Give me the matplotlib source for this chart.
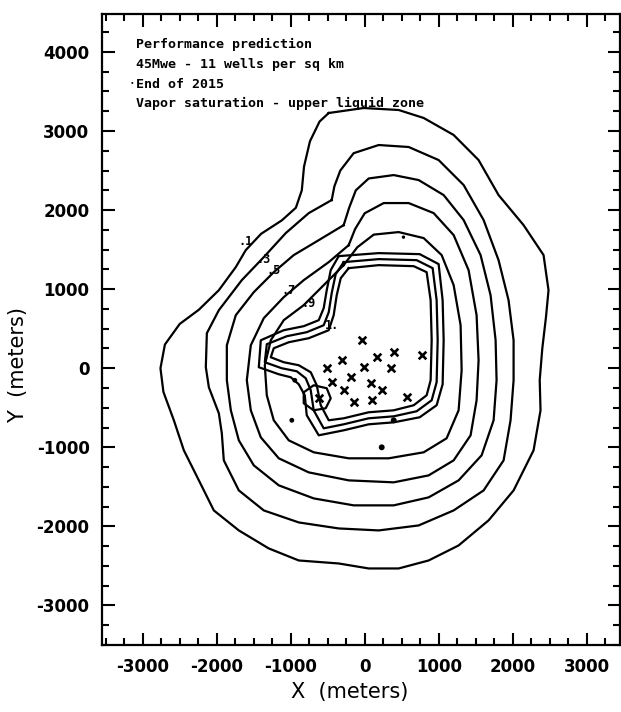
#!/usr/bin/env python3

import matplotlib
matplotlib.use('Agg')
import matplotlib.pyplot as plt
from matplotlib.ticker import MultipleLocator

# contour lines, (x, y) in meters
contour_01 = [(-486, 3228), (-14, 3291), (459, 3266), (797, 3165), (1202, 2950),
              (1539, 2633), (1809, 2190), (2147, 1810), (2417, 1431), (2484, 987),
              (2450, 650), (2400, 250), (2365, -150), (2376, -532), (2282, -1038),
              (2012, -1545), (1674, -1924), (1269, -2241), (864, -2431), (459, -2532),
              (54, -2532), (-351, -2469), (-891, -2431), (-1296, -2279), (-1701, -2051),
              (-2039, -1798), (-2241, -1418), (-2444, -1038), (-2579, -658),
              (-2720, -300), (-2760, 0), (-2700, 300), (-2500, 560), (-2241, 740),
              (-1971, 987), (-1742, 1279), (-1607, 1494), (-1400, 1700),
              (-1120, 1870), (-930, 2030), (-850, 2250), (-820, 2550),
              (-740, 2870), (-610, 3120)]

contour_03 = [(-446, 2127), (-756, 1962), (-1067, 1709), (-1364, 1405), (-1661, 1114),
              (-1971, 734), (-2133, 443), (-2147, 13), (-2106, -241), (-1971, -570),
              (-1931, -823), (-1904, -1165), (-1701, -1545), (-1364, -1798),
              (-891, -1950), (-351, -2026), (189, -2051), (729, -1988), (1202, -1798),
              (1607, -1545), (1877, -1165), (1971, -658), (2012, -152), (2012, 354),
              (1944, 861), (1809, 1367), (1607, 1874), (1337, 2317), (999, 2633),
              (594, 2798), (189, 2823), (-149, 2720), (-330, 2500), (-410, 2300)]

contour_05 = [(-284, 1810), (-621, 1620), (-959, 1431), (-1229, 1215), (-1499, 962),
              (-1742, 671), (-1863, 291), (-1863, -152), (-1809, -532), (-1701, -912),
              (-1499, -1228), (-1161, -1481), (-689, -1646), (-149, -1734),
              (392, -1734), (864, -1633), (1269, -1418), (1580, -1101), (1742, -658),
              (1782, -152), (1769, 354), (1701, 924), (1566, 1431), (1337, 1874),
              (1067, 2190), (729, 2380), (392, 2443), (54, 2400), (-120, 2250),
              (-210, 2030)]

contour_07 = [(-216, 1557), (-486, 1342), (-824, 1114), (-1094, 899), (-1364, 633),
              (-1539, 291), (-1593, -152), (-1539, -532), (-1404, -874), (-1161, -1139),
              (-756, -1317), (-216, -1418), (392, -1443), (864, -1355), (1202, -1165),
              (1431, -848), (1512, -405), (1539, 101), (1512, 671), (1404, 1241),
              (1202, 1684), (932, 1962), (594, 2089), (257, 2089), (0, 1960),
              (-130, 1760)]

contour_09 = [(-284, 1304), (-554, 1051), (-824, 798), (-1094, 608), (-1269, 354),
              (-1350, 38), (-1323, -342), (-1229, -658), (-1026, -912), (-689, -1063),
              (-216, -1139), (324, -1139), (797, -1063), (1107, -886), (1269, -532),
              (1310, -25), (1296, 544), (1202, 1051), (1040, 1431), (797, 1646),
              (459, 1722), (122, 1690), (-100, 1530)]

band_outer = [(-351, 1418), (189, 1456), (743, 1443), (999, 1317), (1053, 861),
              (1067, 354), (1053, -203), (972, -468), (743, -620), (392, -684),
              (54, -709), (-284, -785), (-621, -848), (-783, -595), (-810, -342),
              (-891, -203), (-999, -114), (-1161, -76), (-1431, 13), (-1404, 354),
              (-1094, 481), (-824, 532), (-621, 608), (-554, 760), (-513, 987),
              (-459, 1241)]

band_middle = [(-284, 1342), (189, 1380), (702, 1367), (918, 1266), (972, 861),
               (986, 354), (972, -177), (905, -405), (702, -544), (392, -608),
               (54, -633), (-284, -709), (-554, -760), (-689, -532), (-729, -279),
               (-797, -127), (-918, -38), (-1121, 0), (-1350, 76), (-1323, 304),
               (-1053, 405), (-783, 456), (-554, 544), (-486, 709), (-446, 950),
               (-392, 1190)]

band_inner = [(-216, 1266), (189, 1304), (662, 1291), (837, 1215), (891, 861),
              (905, 354), (891, -152), (837, -342), (662, -468), (392, -532),
              (54, -557), (-284, -633), (-486, -658), (-594, -468), (-648, -215),
              (-729, -51), (-891, 38), (-1094, 76), (-1269, 139), (-1229, 253),
              (-1026, 329), (-756, 380), (-486, 481), (-419, 671), (-378, 924),
              (-324, 1139)]

small_loop = [(-824, -304), (-689, -215), (-513, -253), (-459, -380), (-527, -506),
              (-689, -532), (-824, -443)]

contours = [contour_01, contour_03, contour_05, contour_07, contour_09,
            band_outer, band_middle, band_inner, small_loop]

# well locations
wells_x = [-40, -310, 160, 390, 770, -515, -15, 350, -190, -445, 80, -285, 230,
           -150, 95, 565, -620]
wells_y = [355, 100, 140, 200, 165, 0, 15, 0, -115, -175, -190, -280, -280,
           -430, -405, -365, -380]

# contour labels
label_text = ['.1', '.3', '.5', '.7', '.9', '1.']
label_x = [-1607, -1364, -1229, -1026, -756, -446]
label_y = [1608, 1380, 1240, 988, 824, 545]

# isolated dots
dots_x = [-945, -985, 230, 392, 524, -3140]
dots_y = [-152, -658, -1000, -658, 1658, 3608]
dots_s = [12, 12, 18, 18, 6, 2]

title_lines = ['Performance prediction', '45Mwe - 11 wells per sq km',
               'End of 2015', 'Vapor saturation - upper liquid zone']


def main():
    plt.rcParams['axes.unicode_minus'] = False
    fig = plt.figure(figsize=(6.21, 7.12), dpi=100)
    ax = fig.add_axes([102 / 621, 1 - 645 / 712, 518 / 621, 631 / 712])

    for c in contours:
        xs = [p[0] for p in c] + [c[0][0]]
        ys = [p[1] for p in c] + [c[0][1]]
        ax.plot(xs, ys, color='black', lw=1.6, solid_joinstyle='round')

    ax.scatter(wells_x, wells_y, marker='x', s=30, color='black', linewidths=1.9)
    ax.scatter(dots_x, dots_y, s=dots_s, color='black', linewidths=0)

    for t, x, y in zip(label_text, label_x, label_y):
        ax.text(x, y, t, fontsize=8.5, fontweight='bold', family='DejaVu Sans Mono',
                ha='center', va='center')

    for i, line in enumerate(title_lines):
        ax.text(0.065, 0.952 - i * 0.0315, line, transform=ax.transAxes,
                family='DejaVu Sans Mono', fontweight='bold', fontsize=9.5,
                ha='left', va='center')

    ax.set_xlim(-3550, 3450)
    ax.set_ylim(-3500, 4480)

    ax.xaxis.set_major_locator(MultipleLocator(1000))
    ax.xaxis.set_minor_locator(MultipleLocator(250))
    ax.yaxis.set_major_locator(MultipleLocator(1000))
    ax.yaxis.set_minor_locator(MultipleLocator(250))
    ax.tick_params(which='both', direction='in', top=True, right=True,
                   width=1.5, labelsize=12)
    ax.tick_params(which='major', length=9, pad=9)
    ax.tick_params(which='minor', length=5)
    for lab in ax.get_xticklabels() + ax.get_yticklabels():
        lab.set_fontweight('bold')
    for s in ax.spines.values():
        s.set_linewidth(1.6)

    ax.set_xlabel('X  (meters)', fontsize=15)
    ax.set_ylabel('Y  (meters)', fontsize=15)
    ax.xaxis.set_label_coords(0.479, -0.058)
    ax.yaxis.set_label_coords(-0.143, 0.444)

    fig.savefig('out.png', dpi=100)


if __name__ == '__main__':
    main()
